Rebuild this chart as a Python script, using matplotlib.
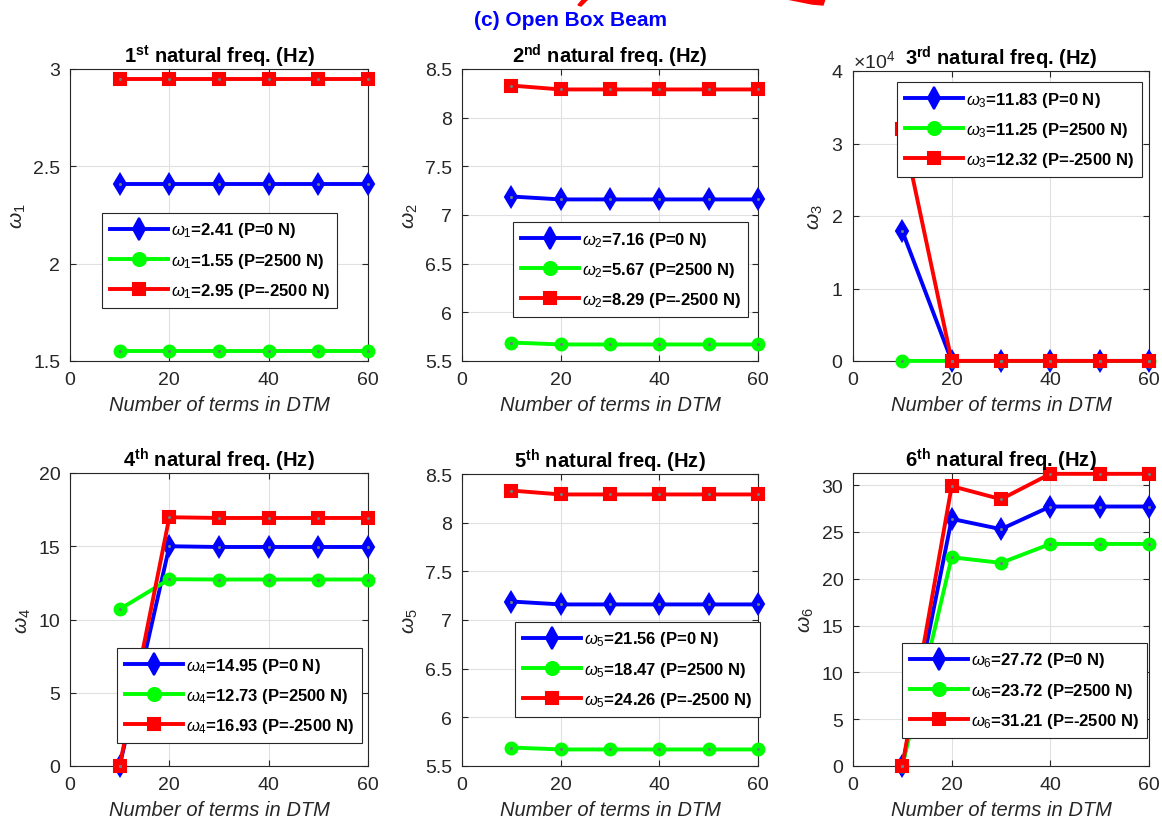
import numpy as np
import matplotlib
matplotlib.use('Agg')
import matplotlib.pyplot as plt
from matplotlib.patches import Polygon
from matplotlib.ticker import ScalarFormatter, FuncFormatter

plt.rcParams['font.family'] = ['Liberation Sans', 'DejaVu Sans']
plt.rcParams['mathtext.fontset'] = 'custom'
plt.rcParams['mathtext.rm'] = 'Liberation Sans'
plt.rcParams['mathtext.it'] = 'Liberation Sans:italic'
plt.rcParams['mathtext.bf'] = 'Liberation Sans:bold'

# number of terms used in the DTM series
n_terms = [10, 20, 30, 40, 50, 60]

# frequencies for P = 0 N, P = 2500 N, P = -2500 N
w1_p0 = [2.41, 2.41, 2.41, 2.41, 2.41, 2.41]
w1_pt = [1.55, 1.55, 1.55, 1.55, 1.55, 1.55]
w1_pc = [2.95, 2.95, 2.95, 2.95, 2.95, 2.95]

w2_p0 = [7.19, 7.16, 7.16, 7.16, 7.16, 7.16]
w2_pt = [5.69, 5.67, 5.67, 5.67, 5.67, 5.67]
w2_pc = [8.33, 8.29, 8.29, 8.29, 8.29, 8.29]

w3_p0 = [17900, 11.83, 11.83, 11.83, 11.83, 11.83]
w3_pt = [10.9, 11.25, 11.25, 11.25, 11.25, 11.25]
w3_pc = [32000, 12.32, 12.32, 12.32, 12.32, 12.32]

w4_p0 = [0.0, 15.0, 14.95, 14.95, 14.95, 14.95]
w4_pt = [10.7, 12.75, 12.73, 12.73, 12.73, 12.73]
w4_pc = [0.0, 16.98, 16.93, 16.93, 16.93, 16.93]

w5_p0 = [7.19, 7.16, 7.16, 7.16, 7.16, 7.16]
w5_pt = [5.69, 5.67, 5.67, 5.67, 5.67, 5.67]
w5_pc = [8.33, 8.29, 8.29, 8.29, 8.29, 8.29]

w6_p0 = [0.0, 26.4, 25.3, 27.72, 27.72, 27.72]
w6_pt = [0.0, 22.3, 21.7, 23.72, 23.72, 23.72]
w6_pc = [0.0, 29.9, 28.5, 31.21, 31.21, 31.21]

converged = [
    ('2.41', '1.55', '2.95'),
    ('7.16', '5.67', '8.29'),
    ('11.83', '11.25', '12.32'),
    ('14.95', '12.73', '16.93'),
    ('21.56', '18.47', '24.26'),
    ('27.72', '23.72', '31.21'),
]
suffixes = ['st', 'nd', 'rd', 'th', 'th', 'th']
ylims = [(1.5, 3), (5.5, 8.5), (0, 40000), (0, 20), (5.5, 8.5), (0, 31.3)]
yticks = [np.arange(1.5, 3.01, 0.5), np.arange(5.5, 8.51, 0.5), np.arange(0, 40001, 10000),
          np.arange(0, 21, 5), np.arange(5.5, 8.51, 0.5), np.arange(0, 31, 5)]

series = [
    (w1_p0, w1_pt, w1_pc), (w2_p0, w2_pt, w2_pc), (w3_p0, w3_pt, w3_pc),
    (w4_p0, w4_pt, w4_pc), (w5_p0, w5_pt, w5_pc), (w6_p0, w6_pt, w6_pc),
]

W, H = 1162, 828
fig = plt.figure(figsize=(W / 100, H / 100), dpi=100)

# axes boxes in pixels: left, top, right, bottom
boxes = [(70, 70, 368, 362), (462, 70, 758, 362), (853, 72, 1149, 362),
         (70, 474, 368, 767), (462, 475, 758, 767), (853, 474, 1149, 767)]
# legend upper-left corners in pixels
leg_pos = [(102, 214), (513, 223), (897, 83), (117, 649), (515, 623), (902, 644)]

styles = [('#0000ff', 'd', 'P=0 N'), ('#00ff00', 'o', 'P=2500 N'), ('#ff0000', 's', 'P=-2500 N')]
dark = '#262626'
plain = FuncFormatter(lambda v, pos: '%g' % v)

for i in range(6):
    l, t, r, b = boxes[i]
    ax = fig.add_axes([l / W, 1 - b / H, (r - l) / W, (b - t) / H])
    for (col, mk, load), vals, val_txt in zip(styles, series[i], converged[i]):
        ms = 10 if mk == 'd' else 8.5
        ax.plot(n_terms, vals, color=col, lw=2.8, marker=mk, ms=ms, mec=col, mew=1.5,
                mfc=col, clip_on=False, zorder=3,
                label=r'$\omega_{%d}$=%s (%s)' % (i + 1, val_txt, load))
        # small grey centre dot inside each marker
        ax.plot(n_terms, vals, ls='none', marker='o', ms=2.2, mew=0, mfc='#6f7f7f',
                clip_on=False, zorder=4)
    ax.set_xlim(0, 60)
    ax.set_xticks([0, 20, 40, 60])
    ax.set_ylim(*ylims[i])
    ax.set_yticks(yticks[i])
    if i == 2:
        fmt = ScalarFormatter(useMathText=True)
        fmt.set_powerlimits((0, 0))
        ax.yaxis.set_major_formatter(fmt)
        ax.yaxis.get_offset_text().set_fontsize(14)
        ax.yaxis.get_offset_text().set_color(dark)
    else:
        ax.yaxis.set_major_formatter(plain)
    ax.grid(True, color='#e0e0e0', lw=0.8)
    ax.set_axisbelow(True)
    ax.tick_params(direction='in', length=4, top=True, right=True, labelsize=14,
                   colors=dark, pad=7)
    for sp in ax.spines.values():
        sp.set_color(dark)
        sp.set_linewidth(0.8)
    ax.set_title(r'%d$^{\mathbf{%s}}$ natural freq. (Hz)' % (i + 1, suffixes[i]),
                 fontsize=14.5, fontweight='bold', pad=5)
    ax.set_xlabel('Number of terms in DTM', fontsize=14.5, style='italic', color=dark, labelpad=5)
    ax.set_ylabel(r'$\omega_{%d}$' % (i + 1), fontsize=15, color=dark)

    handles, labels = ax.get_legend_handles_labels()
    lx, ly = leg_pos[i]
    leg = ax.legend(handles, labels, loc='upper left', bbox_to_anchor=(lx / W, 1 - ly / H),
                    bbox_transform=fig.transFigure, prop={'weight': 'bold', 'size': 12},
                    fancybox=False, framealpha=1, edgecolor=dark, handlelength=3.5,
                    labelspacing=0.68, borderpad=0.45, handletextpad=0.2, borderaxespad=0,
                    markerscale=1.1)
    leg.get_frame().set_linewidth(0.8)

fig.text(570 / W, 1 - 20 / H, '(c) Open Box Beam', color='#0000ff', fontsize=15,
         fontweight='bold', ha='center', va='center')

# clipped red shapes along the top edge
for pts in ([(578, 6), (583, 0), (588, 0), (581, 7)],
            [(787, 0), (825, 0), (823, 6), (812, 5)]):
    fig.patches.append(Polygon([(x / W, 1 - y / H) for x, y in pts], closed=True,
                               transform=fig.transFigure, color='#ff0000'))

fig.savefig('out.png', dpi=100)
